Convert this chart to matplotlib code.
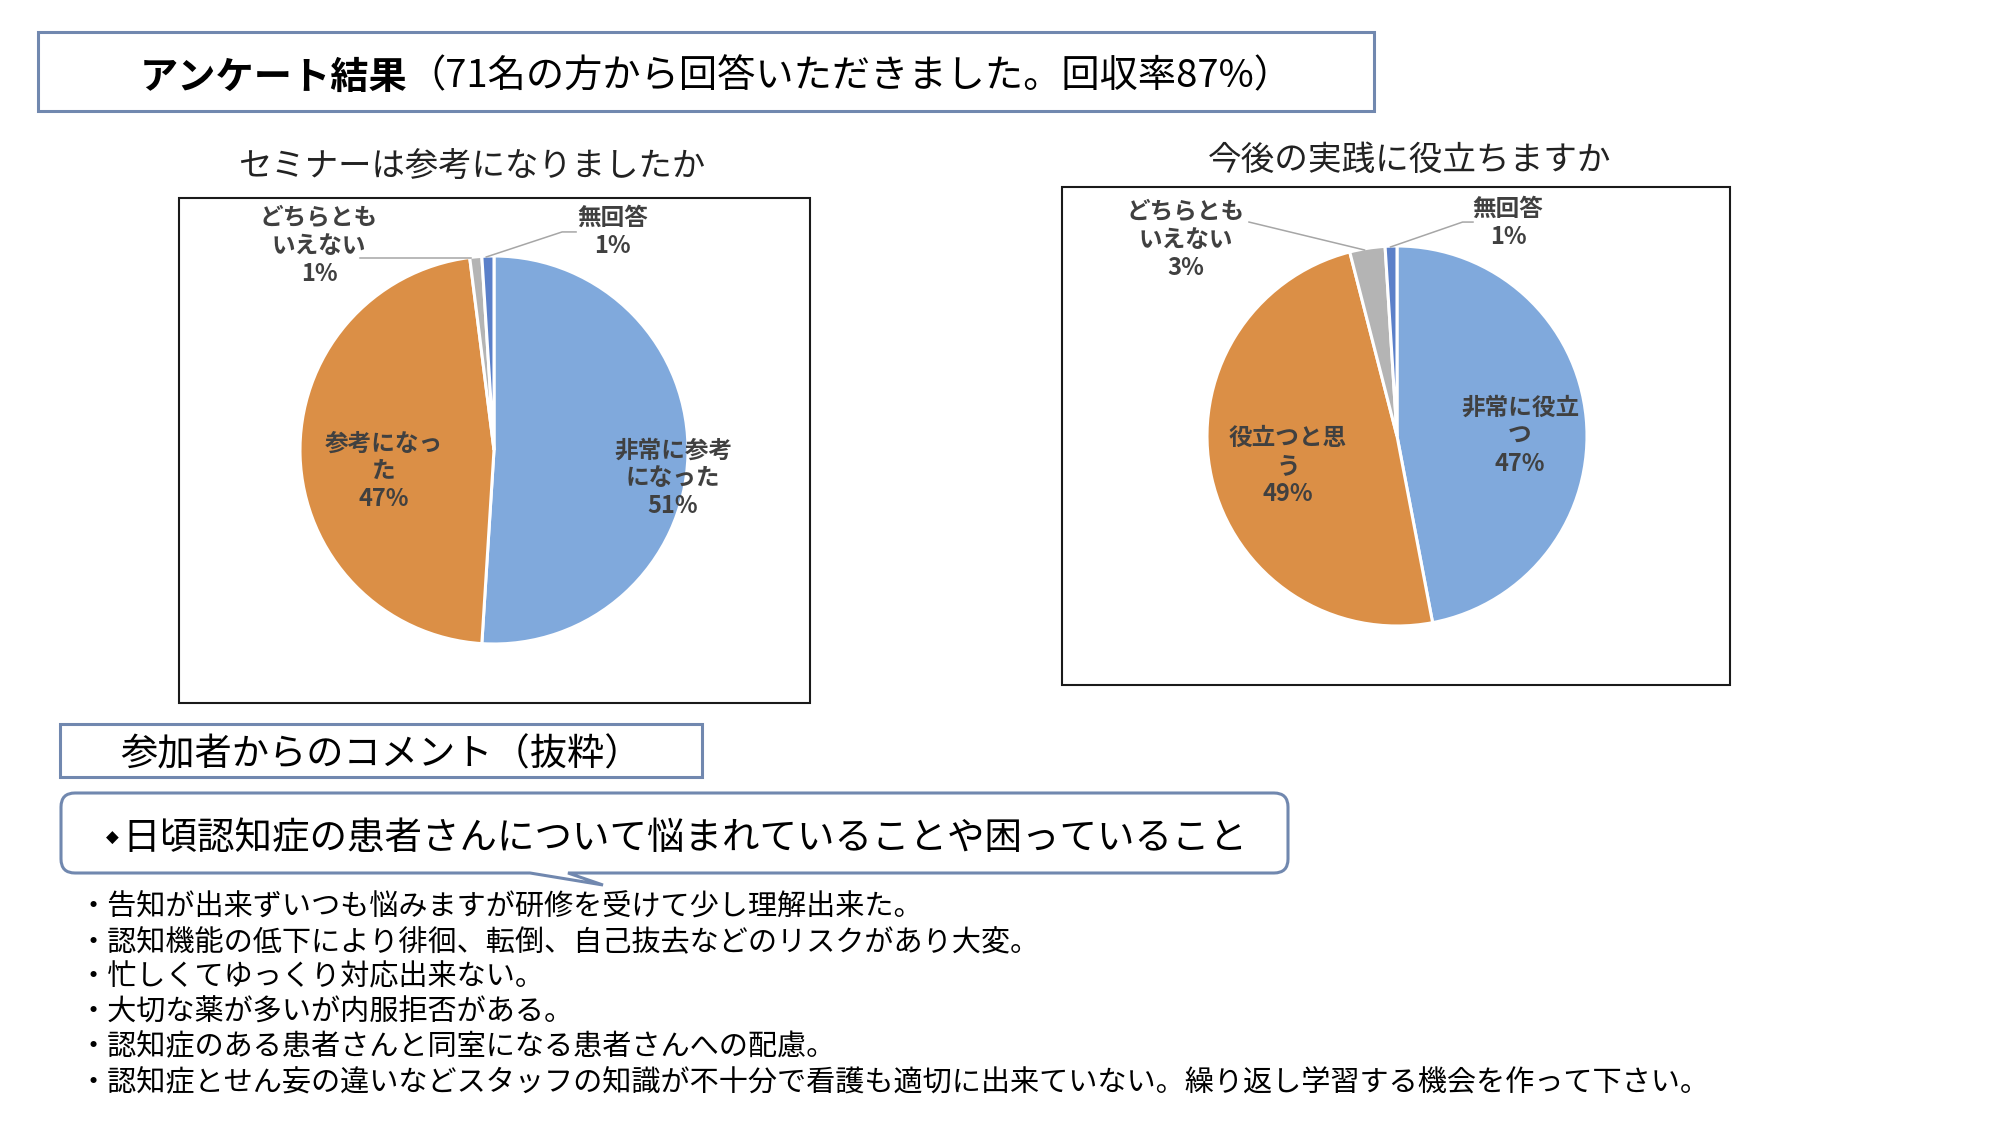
import matplotlib
matplotlib.use("Agg")
import matplotlib.pyplot as plt
from matplotlib.patches import Rectangle, PathPatch
from matplotlib.path import Path

plt.rcParams['font.family'] = ['Noto Sans CJK JP', 'DejaVu Sans']

# ---------------- data ----------------
title_bold = "アンケート結果"
title_rest = "（71名の方から回答いただきました。回収率87%）"

q1_title = "セミナーは参考になりましたか"
q1_labels = ["非常に参考\nになった", "参考になっ\nた", "どちらとも\nいえない", "無回答"]
q1_values = [51, 47, 1, 1]

q2_title = "今後の実践に役立ちますか"
q2_labels = ["非常に役立\nつ", "役立つと思\nう", "どちらとも\nいえない", "無回答"]
q2_values = [47, 49, 3, 1]

comment_header = "参加者からのコメント（抜粋）"
callout_text = "日頃認知症の患者さんについて悩まれていることや困っていること"
comments = [
    "・告知が出来ずいつも悩みますが研修を受けて少し理解出来た。",
    "・認知機能の低下により徘徊、転倒、自己抜去などのリスクがあり大変。",
    "・忙しくてゆっくり対応出来ない。",
    "・大切な薬が多いが内服拒否がある。",
    "・認知症のある患者さんと同室になる患者さんへの配慮。",
    "・認知症とせん妄の違いなどスタッフの知識が不十分で看護も適切に出来ていない。繰り返し学習する機会を作って下さい。",
]

# ---------------- style ----------------
slice_colors = ["#80A9DC", "#DB8F46", "#B4B4B4", "#5B80C9"]
label_color = "#404040"
box_blue = "#7188AF"
W, H = 2000, 1125
DY = 4  # vertical text correction (px)

fig = plt.figure(figsize=(20, 11.25), dpi=100)
fig.patch.set_facecolor("white")
ov = fig.add_axes([0, 0, 1, 1])
ov.set_xlim(0, W)
ov.set_ylim(H, 0)
ov.axis("off")

# title box
ov.add_patch(Rectangle((38, 32), 1336, 79, fill=False, ec=box_blue, lw=2.2))
t1 = ov.text(140, 73 + DY, title_bold, fontsize=27.5, fontweight="bold", color="black",
             ha="left", va="center")
ov.annotate(title_rest, xy=(1, 0.5), xycoords=t1, fontsize=27.5, color="black",
            ha="left", va="center")

# chart frames
ov.add_patch(Rectangle((179, 198), 631, 505, fill=False, ec="#1a1a1a", lw=1.5))
ov.add_patch(Rectangle((1062, 187), 668, 498, fill=False, ec="#1a1a1a", lw=1.5))

# chart titles
ov.text(472, 163 + DY, q1_title, fontsize=24, color="#222222", ha="center", va="center")
ov.text(1410, 156 + DY, q2_title, fontsize=24.2, color="#222222", ha="center", va="center")


def draw_pie(cx, cy, r, values, labels, label_pos, leaders):
    ax = fig.add_axes([(cx - r) / W, 1 - (cy + r) / H, 2 * r / W, 2 * r / H])
    wedges, _ = ax.pie(values, colors=slice_colors, startangle=90, counterclock=False,
                       radius=1, wedgeprops=dict(edgecolor="white", linewidth=2.2))
    ax.set_xlim(-1, 1)
    ax.set_ylim(-1, 1)
    ax.axis("off")
    total = sum(values)
    for lab, v, (x, y) in zip(labels, values, label_pos):
        ax.text(x, y - DY / r, f"{lab}\n{round(100 * v / total)}%", fontsize=17,
                fontweight="bold", color=label_color, ha="center", va="center",
                linespacing=1.2, clip_on=False)
    for pts in leaders:
        xs, ys = zip(*pts)
        ax.plot(xs, ys, color="#A6A6A6", lw=1.1, clip_on=False)
    return ax


draw_pie(494, 450, 194, q1_values, q1_labels,
         [(0.923, -0.124), (-0.567, -0.088), (-0.902, 1.072), (0.613, 1.144)],
         [[(-0.691, 0.990), (-0.12, 0.99)],
          [(0.423, 1.124), (0.351, 1.124), (-0.04, 0.995)]])

draw_pie(1397, 436, 190, q2_values, q2_labels,
         [(0.647, 0.021), (-0.574, -0.137), (-1.111, 1.053), (0.584, 1.142)],
         [[(-0.779, 1.126), (-0.171, 0.979)],
          [(0.40, 1.126), (0.345, 1.126), (-0.034, 0.995)]])

# comment header box
ov.add_patch(Rectangle((60, 724), 642, 53, fill=False, ec=box_blue, lw=2.2))
ov.text(120, 751 + DY, comment_header, fontsize=26.8, color="black", ha="left", va="center")

# callout box with tail
x0, y0, x1, y1, rr = 61, 793, 1288, 873, 14
verts = [
    (x0 + rr, y0), (x1 - rr, y0), (x1, y0), (x1, y0 + rr),
    (x1, y1 - rr), (x1, y1), (x1 - rr, y1),
    (568, y1), (603, 885), (530, y1),
    (x0 + rr, y1), (x0, y1), (x0, y1 - rr),
    (x0, y0 + rr), (x0, y0), (x0 + rr, y0),
    (x0 + rr, y0),
]
codes = [
    Path.MOVETO, Path.LINETO, Path.CURVE3, Path.CURVE3,
    Path.LINETO, Path.CURVE3, Path.CURVE3,
    Path.LINETO, Path.LINETO, Path.LINETO,
    Path.LINETO, Path.CURVE3, Path.CURVE3,
    Path.LINETO, Path.CURVE3, Path.CURVE3,
    Path.CLOSEPOLY,
]
ov.add_patch(PathPatch(Path(verts, codes), fc="white", ec=box_blue, lw=2.2))
ov.text(112, 838, "◆", fontsize=12, color="black", ha="center", va="center",
        family=["DejaVu Sans"])
ov.text(122, 834 + DY, callout_text, fontsize=27, color="black", ha="left", va="center")

# comment lines
line_y = [904, 939, 973, 1009, 1043, 1079]
for yy, txt in zip(line_y, comments):
    ov.text(78, yy + DY, txt, fontsize=21, color="black", ha="left", va="center")

fig.savefig("out.png", dpi=100, facecolor="white")
